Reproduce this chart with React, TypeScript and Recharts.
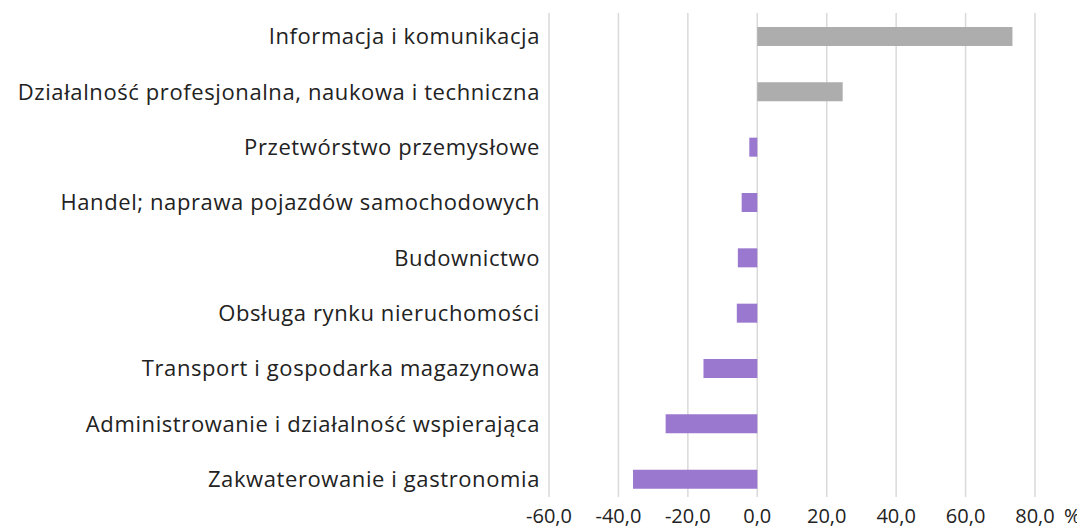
import React from "react";
import { BarChart, Bar, XAxis, YAxis, CartesianGrid, Cell } from "recharts";

const categories = [
  "Informacja i komunikacja",
  "Działalność profesjonalna, naukowa i techniczna",
  "Przetwórstwo przemysłowe",
  "Handel; naprawa pojazdów samochodowych",
  "Budownictwo",
  "Obsługa rynku nieruchomości",
  "Transport i gospodarka magazynowa",
  "Administrowanie i działalność wspierająca",
  "Zakwaterowanie i gastronomia",
];
const values = [73.5, 24.6, -2.3, -4.5, -5.6, -5.9, -15.5, -26.4, -35.8];
const xTicks = [-60, -40, -20, 0, 20, 40, 60, 80];

const data = categories.map((name, i) => ({ name, value: values[i] }));

const FONT = "'Open Sans', 'Noto Sans', sans-serif";

const fmt = (v: number) => v.toFixed(1).replace(".", ",");

const XTick = (props: any) => {
  const { x, y, payload } = props;
  const last = payload.value === xTicks[xTicks.length - 1];
  return (
    <g>
      <text x={x} y={y} dy="0.71em" textAnchor="middle" fill="#222" fontSize={20} fontFamily={FONT}>
        {fmt(payload.value)}
      </text>
      {last && (
        <text x={x + 29} y={y} dy="0.71em" textAnchor="start" fill="#222" fontSize={20} fontFamily={FONT}>
          %
        </text>
      )}
    </g>
  );
};

const YTick = (props: any) => {
  const { x, y, payload } = props;
  return (
    <text x={x} y={y} dy="0.355em" textAnchor="end" fill="#222" fontSize={22} letterSpacing={0.6} fontFamily={FONT}>
      {payload.value}
    </text>
  );
};

export default function App() {
  return (
    <BarChart
      width={1077}
      height={520}
      data={data}
      layout="vertical"
      margin={{ top: 1, right: 50, left: 0, bottom: 0 }}
    >
      <CartesianGrid horizontal={false} stroke="#d9d9d9" strokeWidth={1.5} y={5} height={484} />
      <XAxis
        type="number"
        domain={[-60, 80]}
        ticks={xTicks}
        axisLine={false}
        tickLine={false}
        tickSize={0}
        tickMargin={2}
        height={21}
        tick={<XTick />}
        interval={0}
      />
      <YAxis
        type="category"
        dataKey="name"
        width={541}
        axisLine={false}
        tickLine={false}
        tickSize={0}
        tickMargin={9}
        tick={<YTick />}
        interval={0}
      />
      <Bar dataKey="value" barSize={19} isAnimationActive={false}>
        {data.map((d, i) => (
          <Cell key={i} fill={d.value >= 0 ? "#adadad" : "#9b78d0"} />
        ))}
      </Bar>
    </BarChart>
  );
}
